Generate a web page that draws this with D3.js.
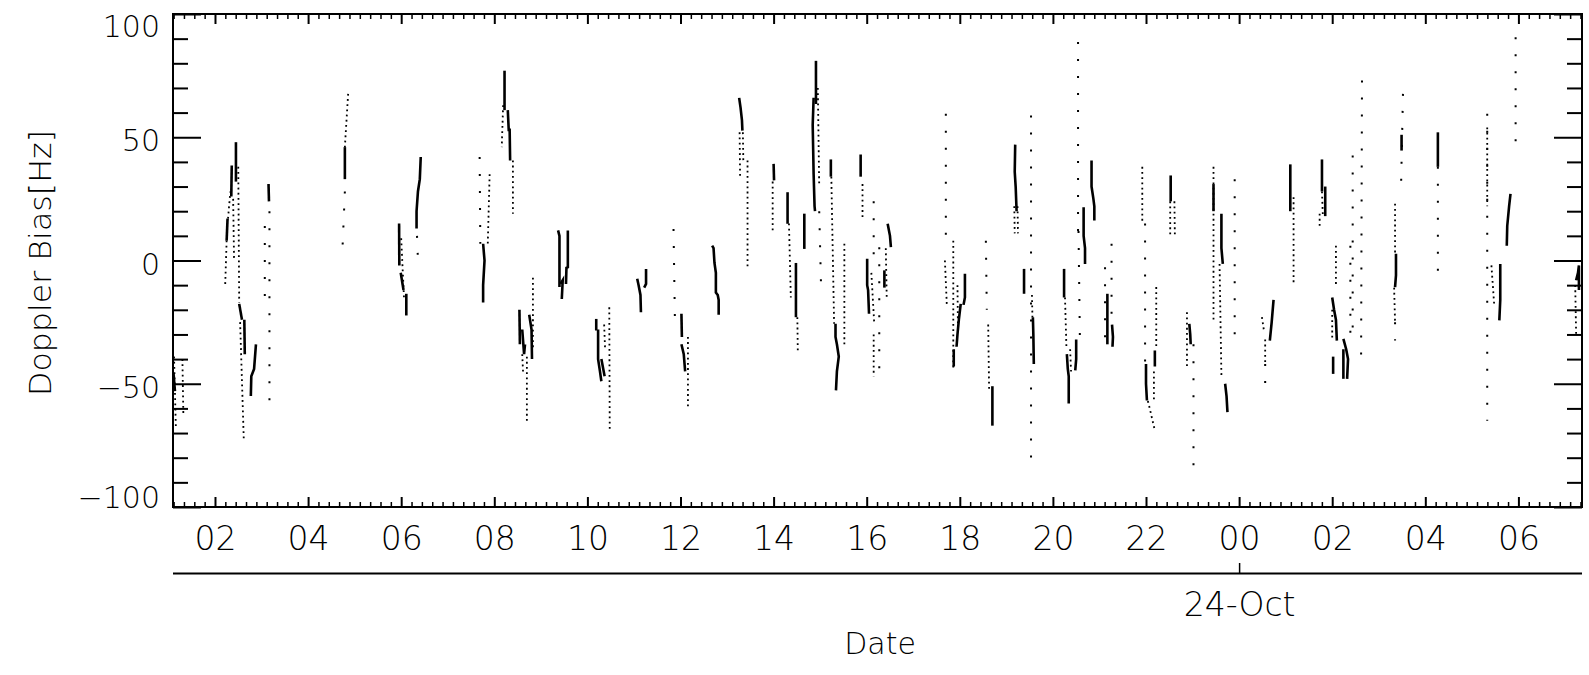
<!DOCTYPE html>
<html>
<head>
<meta charset="utf-8">
<script src="https://cdn.jsdelivr.net/npm/d3@7"></script>
<style>
  html, body { margin: 0; padding: 0; background: #fff; }
  svg { display: block; }
  text { font-family: "DejaVu Sans", sans-serif; font-weight: 200; fill: #000; }
</style>
</head>
<body>
<svg id="chart" width="1589" height="675"></svg>
<script>
// ---------------- DATA (hours since 23-Oct 00:00, Doppler bias in Hz) ----------------
const timeDomainHours = [1.098, 31.366];
const yDomain = [-100, 100];
const yMajorTicks = [-100, -50, 0, 50, 100];
const yMinorTicks = [-90, -80, -70, -60, -40, -30, -20, -10, 10, 20, 30, 40, 60, 70, 80, 90];
const dateLabel = "24-Oct";
const xTitle = "Date";
const yTitle = "Doppler Bias[Hz]";

// densely sampled (continuous-looking) parts of each pass
const solidTracks = [
  [[1.11,-46],[1.14,-53]],
  [[2.25,8],[2.27,17]],
  [[2.35,26],[2.36,38.5]],
  [[2.45,48],[2.45,32]],
  [[2.52,-17.6],[2.58,-24]],
  [[2.63,-24],[2.64,-38]],
  [[2.88,-34],[2.84,-44],[2.78,-47],[2.77,-55]],
  [[3.15,31],[3.16,24]],
  [[4.79,46],[4.79,33]],
  [[5.955,15],[5.96,-2]],
  [[5.99,-5],[6.05,-12]],
  [[6.11,-13.5],[6.11,-22.3]],
  [[6.33,13],[6.33,20],[6.36,28],[6.40,33],[6.42,42]],
  [[7.76,6.8],[7.79,0],[7.76,-10],[7.76,-17]],
  [[8.22,77],[8.22,61]],
  [[8.29,61],[8.31,53],[8.33,53],[8.34,40.6]],
  [[8.54,-20],[8.55,-34]],
  [[8.60,-28],[8.64,-38],[8.66,-34]],
  [[8.75,-22],[8.80,-28],[8.81,-40]],
  [[9.37,12.2],[9.40,10],[9.40,-10.8]],
  [[9.42,-9.5],[9.47,-8],[9.45,-15.6]],
  [[9.58,12.2],[9.58,-2.7],[9.55,-3],[9.54,-9.5]],
  [[10.19,-23.7],[10.19,-28.4]],
  [[10.23,-28],[10.23,-40],[10.27,-45],[10.30,-49]],
  [[10.30,-40],[10.37,-47]],
  [[11.07,-7.4],[11.10,-10],[11.14,-14],[11.15,-21]],
  [[11.26,-3.4],[11.26,-9.5],[11.22,-11]],
  [[12.02,-21.6],[12.03,-31]],
  [[12.02,-34],[12.07,-38],[12.10,-45]],
  [[12.68,6],[12.71,5],[12.73,-1],[12.76,-5],[12.76,-13],[12.80,-14],[12.82,-16],[12.82,-22]],
  [[13.26,66],[13.29,62],[13.32,57],[13.33,52.7]],
  [[14.0,39.2],[14.01,32.5]],
  [[14.30,27.7],[14.30,14.9]],
  [[14.48,-1],[14.48,-23]],
  [[14.66,19],[14.66,4.7]],
  [[14.91,81],[14.91,63.5]],
  [[14.86,66],[14.84,55],[14.85,45],[14.86,35],[14.88,22],[14.89,20]],
  [[15.23,41],[15.23,34]],
  [[15.33,-25.7],[15.33,-31],[15.36,-34],[15.40,-39],[15.36,-45],[15.34,-52.7]],
  [[15.87,43],[15.87,34]],
  [[16.01,0.7],[16.01,-10],[16.03,-12],[16.05,-21.6]],
  [[16.45,14.9],[16.50,10],[16.52,5.4]],
  [[16.38,-4],[16.38,-11]],
  [[17.87,-36],[17.87,-43]],
  [[18.02,-17.6],[17.98,-24],[17.95,-30],[17.93,-35]],
  [[18.11,-5.4],[18.11,-15],[18.08,-18]],
  [[18.70,-51],[18.70,-67]],
  [[19.19,47],[19.18,36],[19.20,30],[19.22,20]],
  [[19.38,-3.4],[19.38,-13.5]],
  [[19.57,-23],[19.58,-30],[19.59,-42]],
  [[20.24,-3.4],[20.24,-15]],
  [[20.30,-38],[20.32,-44],[20.34,-47],[20.34,-58]],
  [[20.50,-32],[20.50,-40],[20.48,-44.6]],
  [[20.66,21.6],[20.66,10],[20.69,5],[20.69,-1.4]],
  [[20.83,40.6],[20.83,30],[20.87,25],[20.89,22],[20.89,16.2]],
  [[21.17,-13.5],[21.17,-34]],
  [[21.27,-26],[21.29,-31],[21.28,-35]],
  [[22.0,-42],[22.0,-50],[22.02,-56.8]],
  [[22.19,-36.5],[22.19,-43]],
  [[22.53,34.5],[22.53,24]],
  [[22.93,-25.7],[22.95,-30],[22.96,-34]],
  [[23.45,31],[23.45,20]],
  [[23.62,19],[23.62,5],[23.65,-1.4]],
  [[23.70,-50],[23.73,-55],[23.75,-61.5]],
  [[24.74,-16],[24.70,-25],[24.66,-32.5]],
  [[25.10,39],[25.10,20]],
  [[25.78,41],[25.78,28]],
  [[25.85,30],[25.85,18]],
  [[26.0,-15],[26.04,-20],[26.08,-24],[26.10,-32.5]],
  [[26.02,-39],[26.02,-46]],
  [[26.24,-31.8],[26.30,-36],[26.34,-40],[26.32,-48]],
  [[26.24,-36],[26.24,-48]],
  [[27.37,2.7],[27.37,-6],[27.35,-10.8]],
  [[27.49,51],[27.49,44.6]],
  [[28.27,52],[28.27,38]],
  [[29.61,-1.4],[29.61,-16],[29.59,-24.3]],
  [[29.75,6],[29.76,14],[29.80,22],[29.83,27]],
  [[31.24,-8],[31.28,-5],[31.30,-2],[31.30,-12]]
];

// closely spaced dotted parts
const fineDotTracks = [
  [[1.12,-39],[1.16,-68]], [[1.30,-40],[1.32,-62]],
  [[2.22,-9.5],[2.25,8]], [[2.28,17],[2.33,28]], [[2.39,25],[2.41,0]], [[2.50,38],[2.52,-17]], [[2.54,-25],[2.62,-73.5]],
  [[4.86,67.6],[4.79,46]],
  [[6.0,9],[6.06,-15]],
  [[7.90,35],[7.86,6.8]],
  [[8.19,63],[8.16,46]], [[8.40,40.6],[8.40,19]],
  [[8.60,-38],[8.62,-46]], [[8.70,-39],[8.70,-65]], [[8.83,-7],[8.83,-36]],
  [[10.47,-19],[10.48,-69.6]], [[10.36,-26],[10.38,-36]],
  [[12.16,-31],[12.16,-59.5]],
  [[13.27,52],[13.28,34]], [[13.34,52],[13.35,40]], [[13.44,40.6],[13.44,-2.7]],
  [[13.98,32],[13.98,12]],
  [[14.33,15],[14.37,-15]], [[14.51,-23],[14.52,-37]],
  [[14.95,70],[14.98,30]],
  [[15.24,34],[15.30,-25.7]], [[15.52,6.8],[15.52,-34]],
  [[15.91,31],[15.91,17.6]], [[16.10,-5],[16.16,-25]], [[16.15,-30],[16.15,-47]], [[16.41,5],[16.43,-15]],
  [[17.68,0],[17.72,-17.6]],
  [[17.86,8],[17.86,-44.6]], [[17.95,-10],[17.96,-27]],
  [[18.61,-26],[18.63,-52.7]],
  [[19.17,22],[19.18,11]], [[19.24,22],[19.25,11]],
  [[19.55,-14],[19.56,-23]],
  [[20.26,-15],[20.29,-35]], [[20.37,-36],[20.39,-45]],
  [[21.92,38],[21.92,15]], [[22.04,-57],[22.08,-60],[22.19,-69]], [[22.22,-10.8],[22.22,-36]], [[22.17,-45],[22.17,-57]],
  [[22.52,24],[22.52,10]], [[22.61,24],[22.62,10]],
  [[22.88,-21],[22.88,-43]],
  [[23.45,38],[23.45,-24]], [[23.58,-1.4],[23.62,-47]],
  [[24.56,-32],[24.56,-42]], [[24.49,-23],[24.53,-28]],
  [[25.17,25.7],[25.17,-10]],
  [[25.78,28],[25.80,17.6]], [[25.73,19],[25.73,13]],
  [[26.08,6],[26.08,-10.8]], [[26.0,-20],[26.0,-32]],
  [[27.35,23],[27.35,2]], [[27.33,-11],[27.35,-25]],
  [[29.33,54],[29.33,22]], [[29.42,-2],[29.45,-10],[29.48,-18]],
  [[31.22,-10],[31.24,-30]]
];

// widely spaced dotted parts
const sparseDotTracks = [
  [[3.07,14],[3.07,-16]], [[3.17,20],[3.17,-62]],
  [[4.79,28],[4.74,5.4]],
  [[6.34,10],[6.36,0]],
  [[7.685,42],[7.70,6.8]],
  [[11.85,12.8],[11.88,-24]],
  [[14.98,20],[15.02,-10.8]],
  [[16.15,24],[16.15,1.4]], [[16.27,5.4],[16.27,-44.6]],
  [[17.70,59.5],[17.70,6.8]],
  [[18.56,8],[18.58,-20]],
  [[19.53,58.8],[19.53,-82.5]],
  [[20.54,88.6],[20.54,12]], [[20.55,12],[20.58,-32]],
  [[21.12,-2.7],[21.12,-34]], [[21.26,6.8],[21.26,-24]],
  [[21.98,15],[21.98,-42]],
  [[23.02,-34],[23.02,-84]],
  [[23.905,33],[23.905,-36]],
  [[24.56,-42],[24.56,-55.4]],
  [[26.39,6],[26.39,-32]], [[26.44,42.6],[26.44,-32]],
  [[26.64,73],[26.62,-42.6]],
  [[27.35,-25],[27.35,-32.5]], [[27.52,67.6],[27.48,31]],
  [[28.27,38],[28.27,-6.8]],
  [[29.33,59.5],[29.33,-65]],
  [[29.94,90.6],[29.94,47.3]]
];

// ---------------- LAYOUT ----------------
const W = 1589, H = 675;
const L = 173, R = 1582, T = 14, B = 507;
const base = new Date(2012, 9, 23, 0, 0, 0);
const toTime = h => new Date(+base + h * 3600e3);

const svg = d3.select("#chart");
svg.append("rect").attr("width", W).attr("height", H).attr("fill", "#fff");

const x = d3.scaleTime().domain(timeDomainHours.map(toTime)).range([L, R]);
const y = d3.scaleLinear().domain(yDomain).range([B, T]);

const [t0, t1] = x.domain();
const majorX = d3.timeHour.every(2).range(t0, t1);
// minor ticks: 8 per 2-hour interval (every 800 s)
const anchor = majorX[0];
const minorX = [];
for (let k = Math.ceil((t0 - anchor) / 800e3); +anchor + k * 800e3 <= +t1; k++) {
  if (k % 9 !== 0) minorX.push(new Date(+anchor + k * 800e3));
}
const fmtHour = d3.timeFormat("%H");

function styleAxis(g, sw) {
  g.select(".domain").remove();
  g.selectAll(".tick line").attr("stroke", "#000").attr("stroke-width", sw);
}

// top axis (ticks inward)
svg.append("g").attr("transform", `translate(0,${T})`)
  .call(d3.axisBottom(x).tickValues(minorX).tickSize(5).tickFormat(""))
  .call(g => styleAxis(g, 1.5));
svg.append("g").attr("transform", `translate(0,${T})`)
  .call(d3.axisBottom(x).tickValues(majorX).tickSize(10).tickFormat(""))
  .call(g => styleAxis(g, 2));

// bottom axis (ticks inward, labels below)
svg.append("g").attr("transform", `translate(0,${B})`)
  .call(d3.axisBottom(x).tickValues(minorX).tickSize(-5).tickFormat(""))
  .call(g => styleAxis(g, 1.5));
const gxb = svg.append("g").attr("transform", `translate(0,${B})`)
  .call(d3.axisBottom(x).tickValues(majorX).tickSize(-10).tickPadding(20).tickFormat(fmtHour))
  .call(g => styleAxis(g, 2));
gxb.selectAll("text").attr("font-size", 33).attr("font-family", "DejaVu Sans").attr("font-weight", 200).attr("fill", "#000");

// left axis
svg.append("g").attr("transform", `translate(${L},0)`)
  .call(d3.axisLeft(y).tickValues(yMinorTicks).tickSize(-15).tickFormat(""))
  .call(g => styleAxis(g, 2));
const gyl = svg.append("g").attr("transform", `translate(${L},0)`)
  .call(d3.axisLeft(y).tickValues(yMajorTicks).tickSize(-28).tickPadding(13).tickFormat(d3.format("d")))
  .call(g => styleAxis(g, 2));
gyl.selectAll("text").attr("font-size", 30).attr("font-family", "DejaVu Sans").attr("font-weight", 200).attr("fill", "#000")
  .attr("dy", d => d === 100 ? "0.74em" : (d === -100 ? "0em" : "0.45em"));

// right axis
svg.append("g").attr("transform", `translate(${R},0)`)
  .call(d3.axisRight(y).tickValues(yMinorTicks).tickSize(-15).tickFormat(""))
  .call(g => styleAxis(g, 2));
svg.append("g").attr("transform", `translate(${R},0)`)
  .call(d3.axisRight(y).tickValues(yMajorTicks).tickSize(-28).tickFormat(""))
  .call(g => styleAxis(g, 2));

// frame
svg.append("rect").attr("x", L).attr("y", T).attr("width", R - L).attr("height", B - T)
  .attr("fill", "none").attr("stroke", "#000").attr("stroke-width", 2);

// date axis (second line)
const dateY = 573;
const midnight = d3.timeDay.range(t0, t1);
const gd = svg.append("g").attr("transform", `translate(0,${dateY})`)
  .call(d3.axisBottom(x).tickValues(midnight).tickSize(-10).tickSizeOuter(0).tickPadding(20).tickFormat(() => dateLabel));
gd.select(".domain").attr("stroke", "#000").attr("stroke-width", 2).attr("d", `M${L},0.5H${R}`);
gd.selectAll(".tick line").attr("stroke", "#000").attr("stroke-width", 1.5);
gd.selectAll("text").attr("font-size", 33).attr("font-family", "DejaVu Sans").attr("font-weight", 200).attr("fill", "#000");

// titles
svg.append("text").attr("x", 880).attr("y", 654).attr("text-anchor", "middle")
  .attr("font-size", 30).text(xTitle);
svg.append("text").attr("transform", "translate(51,263) rotate(-90)").attr("text-anchor", "middle")
  .attr("font-size", 30).attr("textLength", 266).attr("lengthAdjust", "spacingAndGlyphs").text(yTitle);

// data
svg.append("clipPath").attr("id", "plotclip").append("rect")
  .attr("x", L).attr("y", T).attr("width", R - L).attr("height", B - T);
const plot = svg.append("g").attr("clip-path", "url(#plotclip)");
const line = d3.line().x(d => x(toTime(d[0]))).y(d => y(d[1]));

plot.append("g").selectAll("path").data(sparseDotTracks).join("path")
  .attr("d", line).attr("fill", "none").attr("stroke", "#000")
  .attr("stroke-width", 2).attr("stroke-dasharray", "2 15");
plot.append("g").selectAll("path").data(fineDotTracks).join("path")
  .attr("d", line).attr("fill", "none").attr("stroke", "#000")
  .attr("stroke-width", 1.8).attr("stroke-dasharray", "1.8 3.4");
plot.append("g").selectAll("path").data(solidTracks).join("path")
  .attr("d", line).attr("fill", "none").attr("stroke", "#000")
  .attr("stroke-width", 2.6).attr("stroke-linejoin", "miter");
</script>
</body>
</html>
